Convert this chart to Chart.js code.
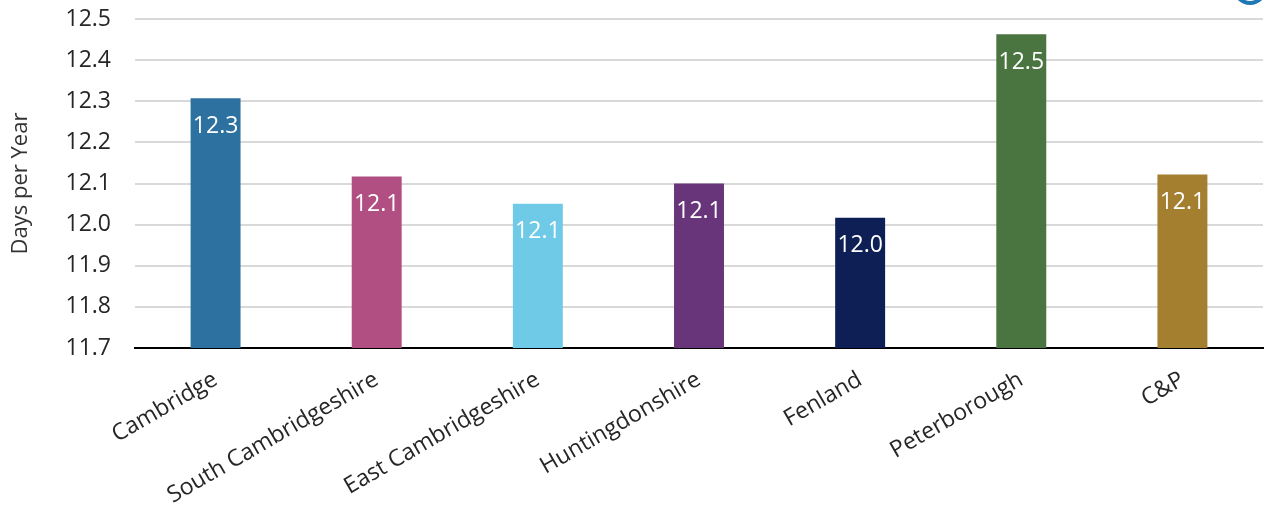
<!DOCTYPE html>
<html>
<head>
<meta charset="utf-8">
<script src="https://cdn.jsdelivr.net/npm/chart.js@4/dist/chart.umd.min.js"></script>
<style>
  html, body { margin: 0; padding: 0; background: #fff; }
  #wrap { width: 1270px; height: 515px; }
</style>
</head>
<body>
<div id="wrap"><canvas id="sicknessChart" width="1270" height="515"></canvas></div>
<script>
var districts = ['Cambridge', 'South Cambridgeshire', 'East Cambridgeshire', 'Huntingdonshire', 'Fenland', 'Peterborough', 'C&P'];
var daysPerYear = [12.307, 12.117, 12.051, 12.100, 12.017, 12.463, 12.122];
var barColours = ['#2c71a0', '#b24f82', '#6ecae6', '#68357a', '#0e1f56', '#4a7541', '#a37f2f'];
var yTicks = [11.7, 11.8, 11.9, 12.0, 12.1, 12.2, 12.3, 12.4, 12.5];

// value labels drawn inside each bar, a little below the top
var valueLabels = {
	id: 'valueLabels',
	afterDatasetsDraw: function (chart) {
		var ctx = chart.ctx;
		var meta = chart.getDatasetMeta(0);
		ctx.save();
		ctx.fillStyle = '#ffffff';
		ctx.font = '23px "Open Sans"';
		ctx.textAlign = 'center';
		ctx.textBaseline = 'middle';
		meta.data.forEach(function (bar, i) {
			ctx.fillText(daysPerYear[i].toFixed(1), bar.x, bar.y + 28);
		});
		ctx.restore();
	}
};

// little piece of the logo peeking in at the top right
var cornerLogo = {
	id: 'cornerLogo',
	afterDraw: function (chart) {
		var ctx = chart.ctx;
		ctx.save();
		ctx.beginPath();
		ctx.ellipse(1250, -40, 24, 43, 0, 0, Math.PI * 2);
		ctx.lineWidth = 4;
		ctx.strokeStyle = '#1f78b4';
		ctx.stroke();
		ctx.restore();
	}
};

var ctx = document.getElementById('sicknessChart').getContext('2d');
var sicknessChart = new Chart(ctx, {
	type: 'bar',
	data: {
		labels: districts,
		datasets: [{
			data: daysPerYear,
			backgroundColor: barColours,
			categoryPercentage: 1.0,
			barPercentage: 0.31
		}]
	},
	options: {
		responsive: false,
		animation: false,
		layout: { padding: { top: 19, right: 7, left: 0, bottom: 0 } },
		plugins: {
			legend: { display: false },
			tooltip: { enabled: false }
		},
		scales: {
			x: {
				grid: { display: false, drawTicks: false },
				border: { color: '#000000', width: 2 },
				ticks: {
					color: '#262626',
					font: { size: 23, family: 'Open Sans' },
					minRotation: 30,
					maxRotation: 30,
					padding: 18
				},
				afterFit: function (scale) {
					scale.height = 167;
					scale.paddingTop = 0;
				}
			},
			y: {
				min: 11.7,
				max: 12.5,
				afterBuildTicks: function (scale) {
					scale.ticks = yTicks.map(function (v) { return { value: v }; });
				},
				grid: { color: '#d9d9d9', lineWidth: 2, drawTicks: false },
				border: { display: false },
				ticks: {
					color: '#262626',
					font: { size: 23, family: 'Open Sans' },
					padding: 24,
					callback: function (v) { return v.toFixed(1); }
				},
				title: {
					display: true,
					text: 'Days per Year',
					color: '#333333',
					font: { size: 22, family: 'Open Sans' },
					padding: { top: 8, bottom: 2 }
				},
				afterFit: function (scale) {
					scale.width = 135;
					scale.paddingTop = 0;
					scale.paddingBottom = 0;
				}
			}
		}
	},
	plugins: [valueLabels, cornerLogo]
});
</script>
</body>
</html>
